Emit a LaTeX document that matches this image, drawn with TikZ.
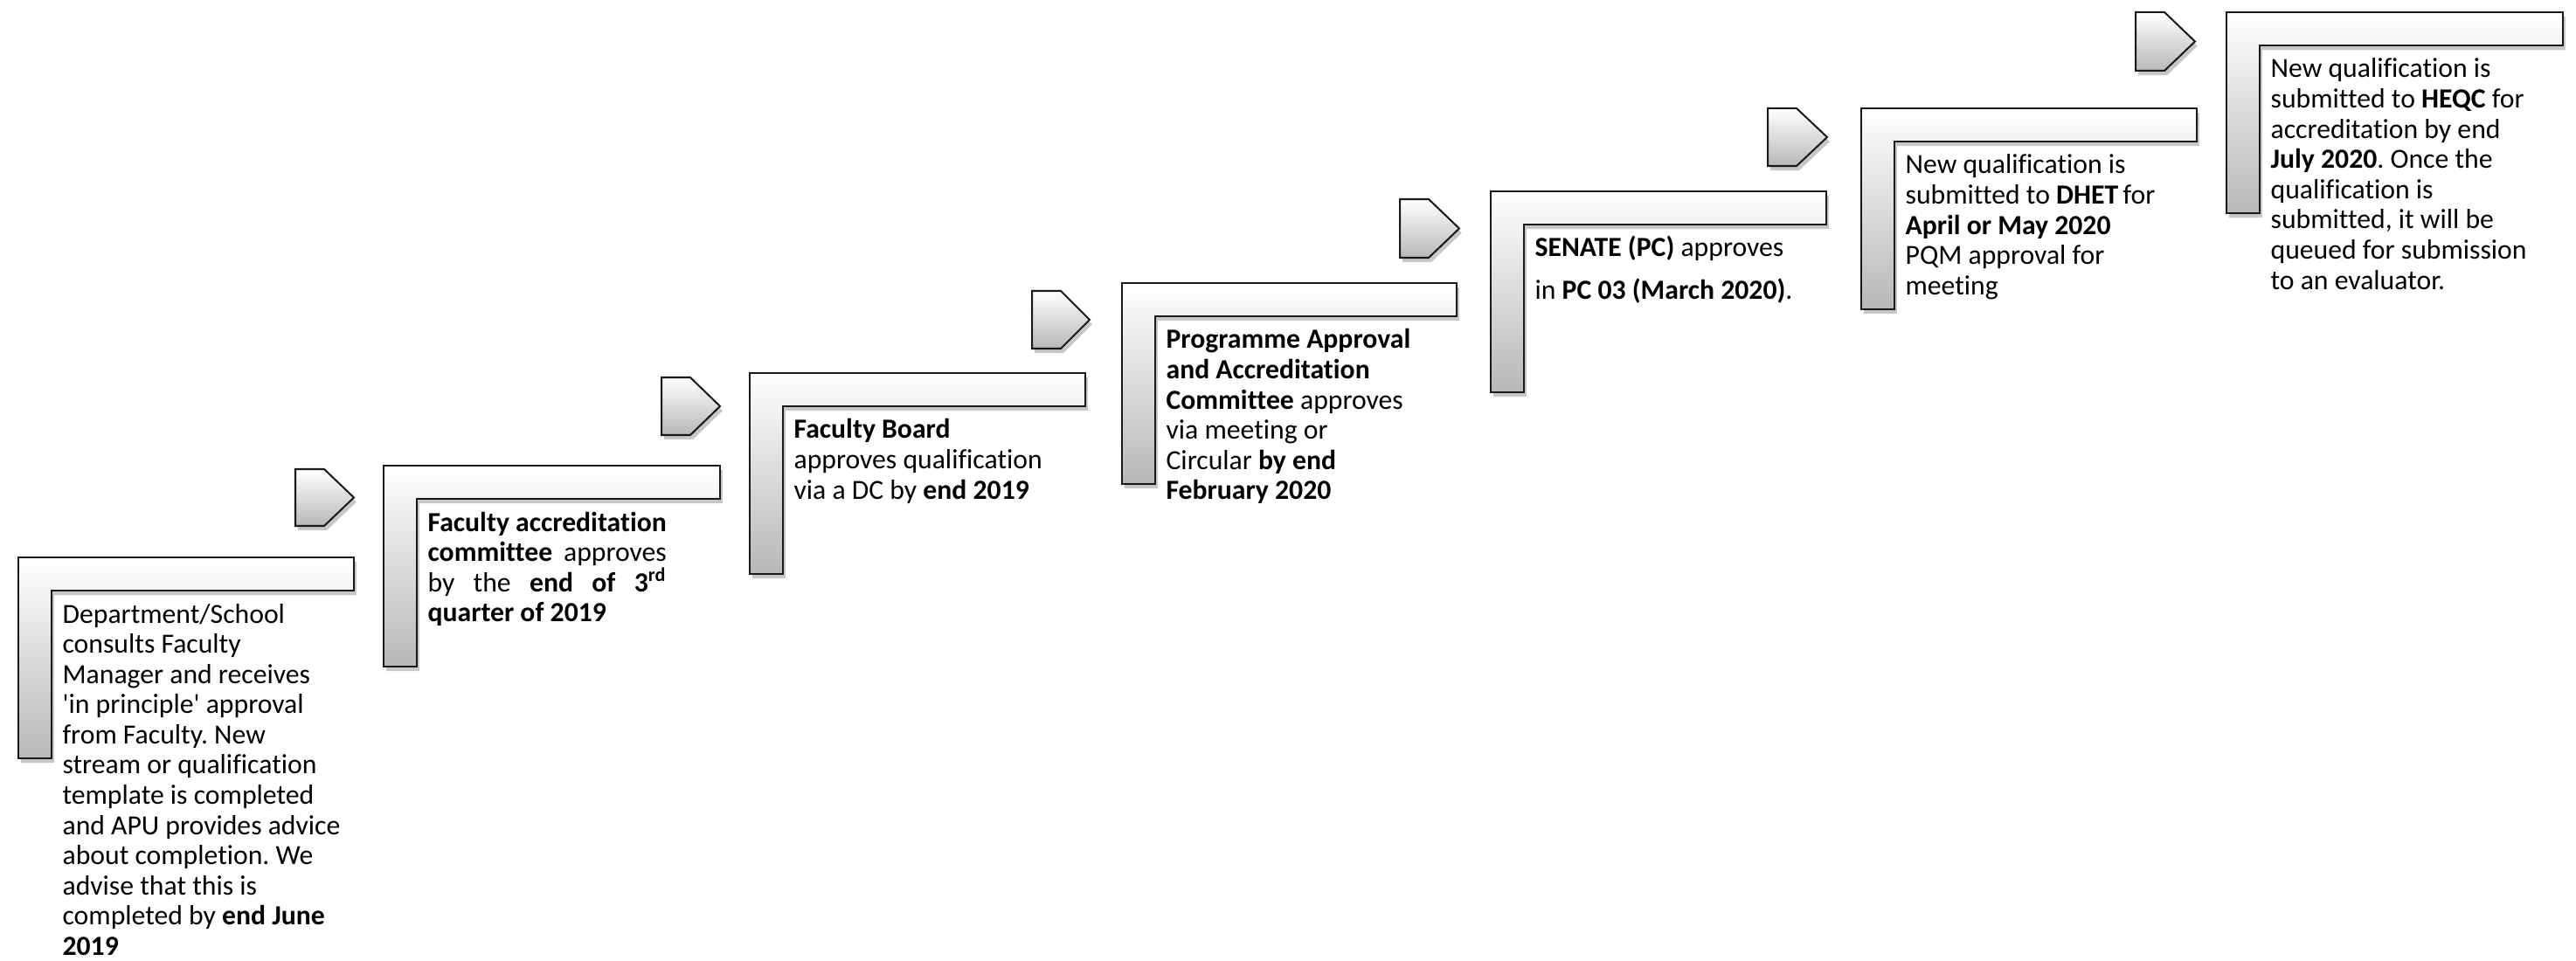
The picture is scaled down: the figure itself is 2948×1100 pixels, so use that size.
\documentclass[tikz,border=0pt]{standalone}
\usepackage{fontspec}
\setmainfont{Carlito}[Ligatures={NoCommon}]
\usetikzlibrary{shadows}
\newlength\Ltwow
\frenchspacing
\tikzset{
  lshape/.style={draw=black!90, line width=0.7pt, top color=white, bottom color=black!28,
    drop shadow={shadow xshift=1pt, shadow yshift=-1.8pt, opacity=0.22, fill=black}},
  arrowshape/.style={draw=black!90, line width=0.7pt, top color=white, bottom color=black!28,
    drop shadow={shadow xshift=1pt, shadow yshift=-1.8pt, opacity=0.22, fill=black}},
  steptext/.style={anchor=base west, inner sep=0pt, text=black, font=\fontsize{11}{12}\selectfont}
}
\newcommand\LStep[3]{% left, top, right
  \path[lshape] (#1,#2) -- (#3,#2) -- (#3,#2+38) -- (#1+38,#2+38) -- (#1+38,#2+230) -- (#1,#2+230) -- cycle;}
\newcommand\PArrow[4]{% left, top, right, bottom
  \path[arrowshape] (#1,#2) -- (#1+33,#2) -- (#3,{(#2+#4)/2}) -- (#1+33,#4) -- (#1,#4) -- cycle;}
\begin{document}
\settowidth{\Ltwow}{\fontsize{11}{12}\selectfont\textbf{Faculty accreditation}}%
\begin{tikzpicture}[x=0.347pt, y=-0.347pt]
\useasboundingbox (0,0) rectangle (2948,1100);
% L shapes
\LStep{21}{638}{405}
\LStep{439}{533}{824}
\LStep{858}{427}{1242}
\LStep{1284}{324}{1667}
\LStep{1706}{219}{2090}
\LStep{2130}{124}{2514}
\LStep{2548}{14}{2933}
% arrows
\PArrow{338}{537}{405}{602}
\PArrow{757}{432}{824}{498}
\PArrow{1181}{333}{1247}{399}
\PArrow{1602}{228}{1670}{295}
\PArrow{2023}{124}{2091}{190}
\PArrow{2444}{14}{2512}{81}
% texts
\node[steptext] (t1) at (71,713) {\parbox[t]{125pt}{\raggedright
Department/School\\
consults Faculty\\
Manager and receives\\
\textquotesingle in principle\textquotesingle\ approval\\
from Faculty. New\\
stream or qualification\\
template is completed\\
and APU provides advice\\
about completion. We\\
advise that this is\\
completed by \textbf{end June}\\
\textbf{2019}}};
\node[steptext] (t2) at (489,608) {\parbox[t]{\Ltwow}{\raggedright
\textbf{Faculty accreditation}\\
\makebox[\Ltwow][s]{\textbf{committee} \ approves}\\
\makebox[\Ltwow][s]{by the \textbf{end of 3\textsuperscript{rd}}}\\
\textbf{quarter of 2019}}};
\node[steptext] (t3) at (908,502) {\parbox[t]{125pt}{\raggedright
\textbf{Faculty Board}\\
approves qualification\\
via a DC by \textbf{end 2019}}};
\node[steptext] (t4) at (1334,399) {\parbox[t]{125pt}{\raggedright
\textbf{Programme Approval}\\
\textbf{and Accreditation}\\
\textbf{Committee} approves\\
via meeting or\\
Circular \textbf{by end}\\
\textbf{February 2020}}};
\node[steptext] (t5) at (1756,294) {\parbox[t]{125pt}{\raggedright
\textbf{SENATE (PC)} approves\\[5pt]
in \textbf{PC 03 (March 2020)}.}};
\node[steptext] (t6) at (2180,199) {\parbox[t]{125pt}{\raggedright
New qualification is\\
submitted to \textbf{DHET}\,for\\
\textbf{April or May 2020}\\
PQM approval for\\
meeting}};
\node[steptext] (t7) at (2598,89) {\parbox[t]{125pt}{\raggedright
New qualification is\\
submitted to \textbf{HEQC} for\\
accreditation by end\\
\textbf{July 2020}. Once the\\
qualification is\\
submitted, it will be\\
queued for submission\\
to an evaluator.}};
\end{tikzpicture}
\end{document}
